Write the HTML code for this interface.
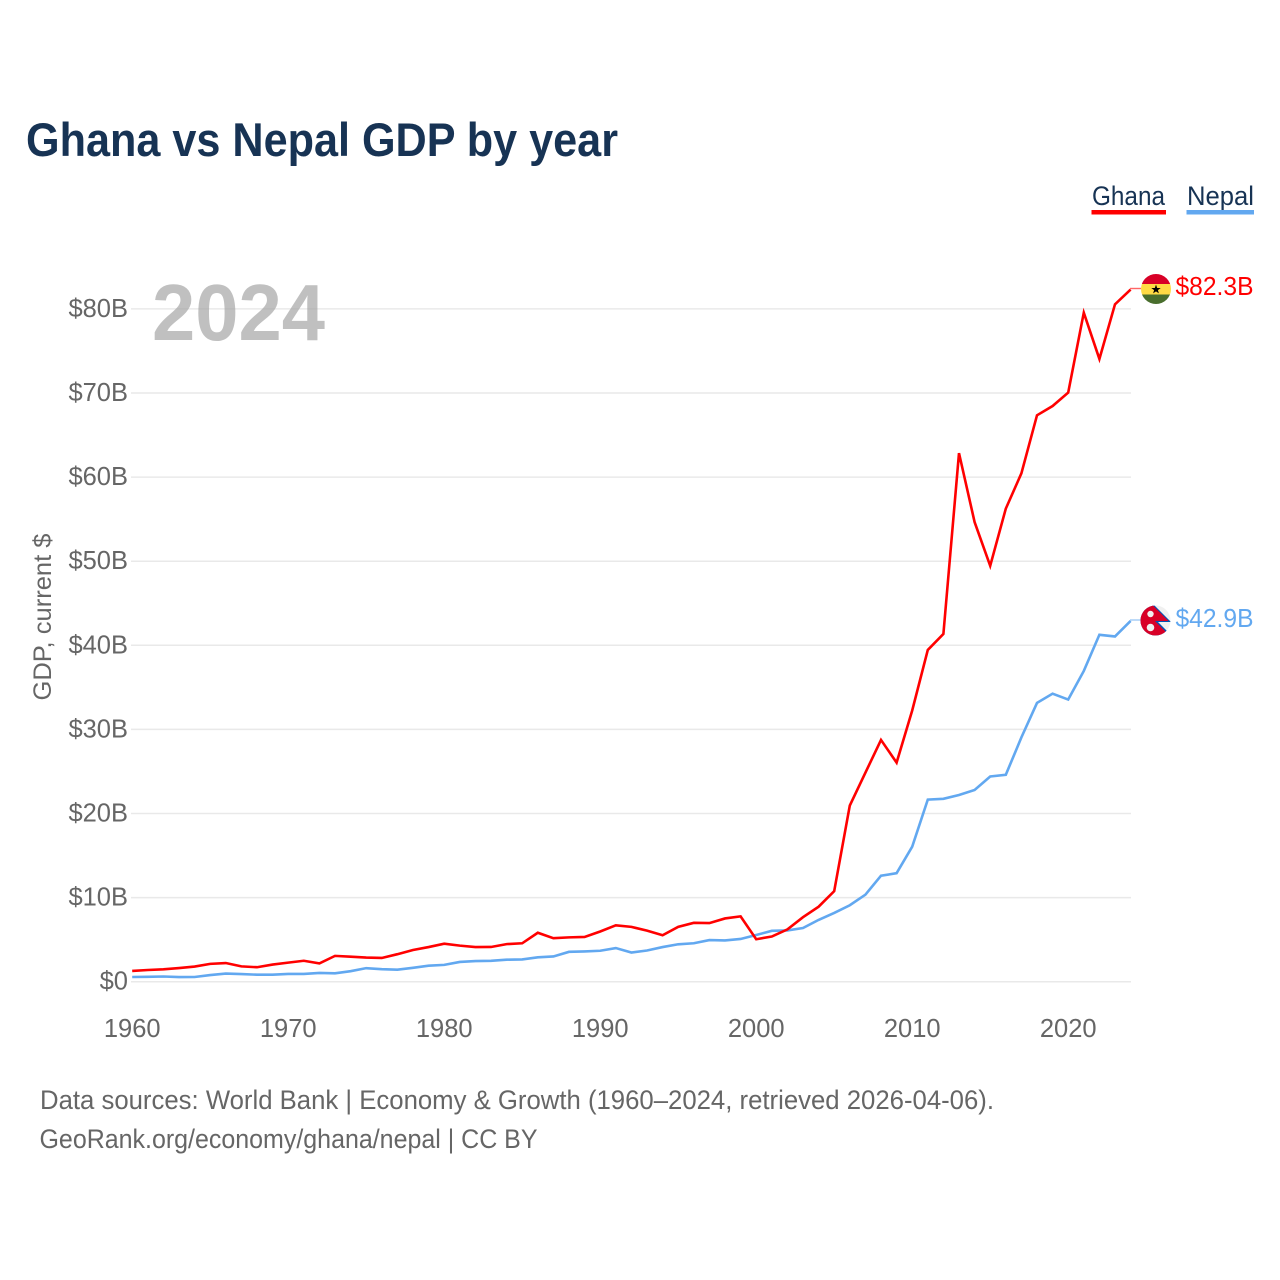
<!DOCTYPE html>
<html lang="en">
<head>
<meta charset="utf-8">
<title>Ghana vs Nepal GDP by year</title>
<style>
html,body{margin:0;padding:0;background:#fff;}
body{width:1280px;height:1280px;overflow:hidden;}
svg{display:block;font-family:"Liberation Sans",sans-serif;}
</style>
</head>
<body>
<svg id="chart" xmlns="http://www.w3.org/2000/svg" width="1280" height="1280" viewBox="0 0 1280 1280">
  <defs>
    <clipPath id="clip-ghana"><circle cx="1156" cy="289" r="15"/></clipPath>
    <clipPath id="clip-nepal"><circle cx="1155.5" cy="620.5" r="15"/></clipPath>
  </defs>
  <text x="26" y="156" font-size="47" font-weight="700" fill="#173354" textLength="592" lengthAdjust="spacingAndGlyphs">Ghana vs Nepal GDP by year</text>

  <text x="1092" y="205" font-size="26.5" fill="#173354" textLength="73" lengthAdjust="spacingAndGlyphs">Ghana</text>
  <rect x="1091.5" y="210" width="74.5" height="4.5" fill="#ff0000"/>
  <text x="1187" y="205" font-size="26.5" fill="#173354" textLength="67" lengthAdjust="spacingAndGlyphs">Nepal</text>
  <rect x="1186.5" y="210" width="67.5" height="4.5" fill="#62a8f0"/>

  <g id="grid"></g>
  <text x="152" y="340" font-size="80" font-weight="700" fill="#a8a8a8" fill-opacity="0.72" textLength="173" lengthAdjust="spacingAndGlyphs">2024</text>
  <g id="y-ticks"></g>
  <g id="x-ticks"></g>
  <text transform="translate(51,617) rotate(-90)" text-anchor="middle" font-size="25" fill="#666666" textLength="167" lengthAdjust="spacingAndGlyphs">GDP, current $</text>

  <line x1="1130" y1="288.5" x2="1141" y2="288.5" stroke="#ff0000" stroke-opacity="0.6" stroke-width="1.4"/>
  <line x1="1130" y1="620" x2="1141" y2="620" stroke="#62a8f0" stroke-opacity="0.6" stroke-width="1.4"/>
  <g id="series"></g>

  <g clip-path="url(#clip-ghana)">
    <rect x="1141" y="274" width="30" height="10" fill="#d80027"/>
    <rect x="1141" y="284" width="30" height="10.5" fill="#ffda44"/>
    <rect x="1141" y="294.5" width="30" height="10" fill="#496e2d"/>
    <polygon points="1156,284.6 1157.2,288 1160.7,288 1157.9,290.1 1158.9,293.4 1156,291.4 1153.1,293.4 1154.1,290.1 1151.3,288 1154.8,288" fill="#000000"/>
  </g>
  <text x="1175.5" y="295" font-size="25.5" fill="#ff0000" textLength="78" lengthAdjust="spacingAndGlyphs">$82.3B</text>

  <g clip-path="url(#clip-nepal)">
    <rect x="1140" y="605" width="31" height="31" fill="#f0f0f0"/>
    <polygon points="1140,603 1154,605 1171,622 1158,622 1171,635 1171,637 1140,637" fill="#0052b4"/>
    <polygon points="1140,605 1153,605.5 1168.5,621 1155,621 1169,635 1140,636" fill="#d80027"/>
    <circle cx="1150.5" cy="614" r="3.2" fill="#f0f0f0"/>
    <circle cx="1150.5" cy="627.5" r="3.8" fill="#f0f0f0"/>
  </g>
  <text x="1175.5" y="627" font-size="25.5" fill="#62a8f0" textLength="78" lengthAdjust="spacingAndGlyphs">$42.9B</text>

  <text x="40" y="1109" font-size="27" fill="#666666" textLength="954" lengthAdjust="spacingAndGlyphs">Data sources: World Bank | Economy &amp; Growth (1960–2024, retrieved 2026-04-06).</text>
  <text x="39.5" y="1148" font-size="27" fill="#666666" textLength="498" lengthAdjust="spacingAndGlyphs">GeoRank.org/economy/ghana/nepal | CC BY</text>
</svg>
<script>
const startYear = 1960;
const ghanaValues = [1.28,1.39,1.47,1.62,1.8,2.12,2.22,1.82,1.72,2.04,2.27,2.49,2.17,3.07,2.97,2.87,2.82,3.27,3.77,4.12,4.52,4.29,4.12,4.13,4.47,4.57,5.82,5.17,5.27,5.32,5.97,6.7,6.52,6.07,5.52,6.52,7.0,6.97,7.52,7.77,5.05,5.37,6.22,7.67,8.92,10.77,20.95,24.85,28.75,26.05,32.25,39.45,41.35,62.85,54.65,49.45,56.25,60.45,67.35,68.45,70.05,79.55,74.05,80.55,82.3];
const nepalValues = [0.56,0.58,0.62,0.55,0.56,0.79,0.97,0.91,0.83,0.84,0.92,0.92,1.04,1.0,1.25,1.61,1.49,1.43,1.65,1.9,2.0,2.35,2.45,2.48,2.62,2.65,2.9,3.0,3.55,3.6,3.68,4.0,3.47,3.71,4.12,4.45,4.57,4.95,4.91,5.08,5.55,6.05,6.1,6.38,7.35,8.18,9.09,10.35,12.6,12.9,16.05,21.65,21.75,22.2,22.8,24.4,24.6,29.05,33.15,34.25,33.55,36.95,41.25,41.05,42.9];
const yTickValues = [0,10,20,30,40,50,60,70,80];
const xTickYears = [1960,1970,1980,1990,2000,2010,2020];

const NS = 'http://www.w3.org/2000/svg';
function xScale(year) { return 132.2 + (year - 1960) * 15.6; }
function yScale(value) { return 981.7 - value * 8.41; }

const gridGroup = document.getElementById('grid');
const yTickGroup = document.getElementById('y-ticks');
const xTickGroup = document.getElementById('x-ticks');
const seriesGroup = document.getElementById('series');

yTickValues.forEach(function (v) {
  const gl = document.createElementNS(NS, 'line');
  
  
  gl.setAttribute('x1', 131);
  gl.setAttribute('x2', 1131);
  gl.setAttribute('y1', yScale(v));
  gl.setAttribute('y2', yScale(v));
  gl.setAttribute('stroke', '#e9e9e9');
  gl.setAttribute('stroke-width', '1.5');
  gridGroup.appendChild(gl);

  const t = document.createElementNS(NS, 'text');
  
  
  t.setAttribute('x', 128);
  t.setAttribute('y', yScale(v) + 8);
  t.setAttribute('text-anchor', 'end');
  t.setAttribute('font-size', '25.5');
  t.setAttribute('fill', '#666666');
  t.textContent = '$' + v + (v === 0 ? '' : 'B');
  yTickGroup.appendChild(t);
});

xTickYears.forEach(function (y) {
  const t = document.createElementNS(NS, 'text');
  
  
  t.setAttribute('x', xScale(y));
  t.setAttribute('y', 1037);
  t.setAttribute('text-anchor', 'middle');
  t.setAttribute('font-size', '25.5');
  t.setAttribute('fill', '#666666');
  t.textContent = y;
  xTickGroup.appendChild(t);
});

function linePoints(values) {
  return values.map(function (v, i) {
    return xScale(startYear + i).toFixed(2) + ',' + yScale(v).toFixed(2);
  }).join(' ');
}

const nepalLine = document.createElementNS(NS, 'polyline');


nepalLine.setAttribute('points', linePoints(nepalValues));
nepalLine.setAttribute('fill', 'none');
nepalLine.setAttribute('stroke', '#62a8f0');
nepalLine.setAttribute('stroke-width', '2.6');
seriesGroup.appendChild(nepalLine);

const ghanaLine = document.createElementNS(NS, 'polyline');


ghanaLine.setAttribute('points', linePoints(ghanaValues));
ghanaLine.setAttribute('fill', 'none');
ghanaLine.setAttribute('stroke', '#ff0000');
ghanaLine.setAttribute('stroke-width', '2.6');
seriesGroup.appendChild(ghanaLine);
</script>
</body>
</html>
